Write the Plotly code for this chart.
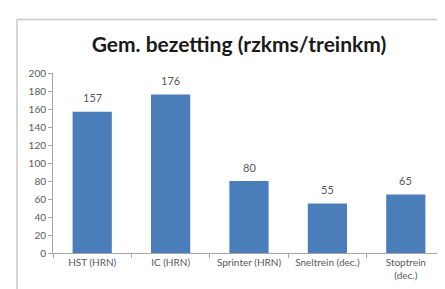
import plotly.graph_objects as go

categories = ["HST (HRN)", "IC (HRN)", "Sprinter (HRN)", "Sneltrein (dec.)", "Stoptrein<br>(dec.)"]
values = [157, 176, 80, 55, 65]
y_ticks = [0, 20, 40, 60, 80, 100, 120, 140, 160, 180, 200]
title_text = "Gem. bezetting (rzkms/treinkm)"

FONT = "Lato, Open Sans, sans-serif"

fig = go.Figure(go.Bar(
    x=categories, y=values,
    marker=dict(color="#4a7ebb", line=dict(width=0)),
))

for c, v in zip(categories, values):
    fig.add_annotation(x=c, y=v, text=str(v), showarrow=False, yanchor="middle", yshift=14,
                       font=dict(family=FONT, size=11, color="#595959"))

fig.update_layout(
    width=445, height=289,
    margin=dict(l=45, r=8, t=65, b=44),
    paper_bgcolor="white", plot_bgcolor="white",
    bargap=0.5,
    showlegend=False,
    title=dict(text="<b>" + title_text + "</b>", x=0.519, xanchor="center", y=0.873, yanchor="middle",
               font=dict(family=FONT, size=21, color="#1a1a1a")),
    xaxis=dict(showline=True, linecolor="#a6a6a6", linewidth=1, ticks="outside", tickson="boundaries",
               ticklen=4, tickcolor="#a6a6a6", showgrid=False,
               tickfont=dict(family=FONT, size=10, color="#595959")),
    yaxis=dict(range=[0, 200], tickvals=y_ticks, showline=True, linecolor="#a6a6a6", linewidth=1,
               ticks="outside", ticklen=4, tickcolor="#a6a6a6", showgrid=False, zeroline=False,
               tickfont=dict(family=FONT, size=10, color="#595959")),
    shapes=[
        dict(type="line", xref="paper", yref="paper", x0=-36/392, x1=-36/392, y0=-44/180, y1=(289-11.5-44)/180,
             line=dict(color="#c8c8c8", width=1.5)),
        dict(type="line", xref="paper", yref="paper", x0=-36/392, x1=1 + 8/392, y0=(289-11.5-44)/180, y1=(289-11.5-44)/180,
             line=dict(color="#c8c8c8", width=1.5)),
    ],
)

fig.write_html("out.html")
